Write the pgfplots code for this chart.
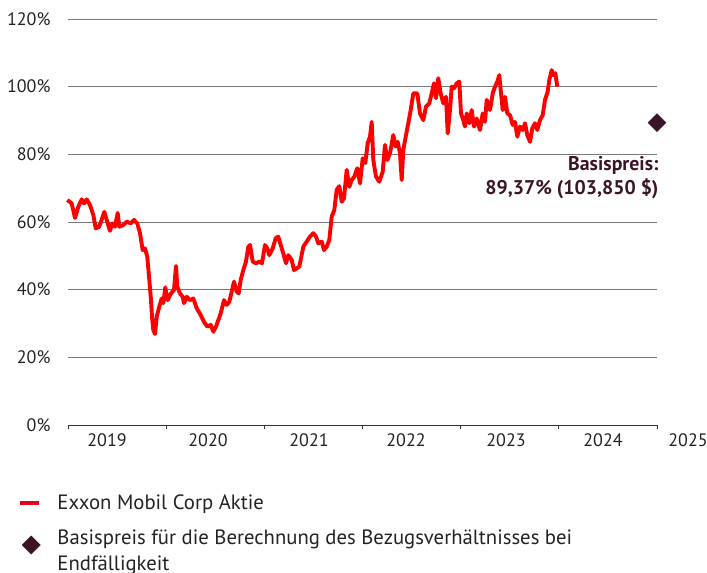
\documentclass[border=0pt]{standalone}
\usepackage{pgfplots}
\pgfplotsset{compat=1.18}
\usepackage{fontspec}
\setmainfont{PT Sans}
\definecolor{gridgray}{RGB}{120,120,120}
\definecolor{axisdark}{RGB}{50,50,50}
\definecolor{linered}{RGB}{255,0,0}
\definecolor{legred}{RGB}{226,0,26}
\definecolor{maroonc}{RGB}{59,20,39}
\definecolor{txt}{RGB}{34,34,34}
\pgfplotstableread{
x y
67.3 66.5
71.7 65.5
75 61.2
78.3 64.5
81.7 66.7
84 65.5
86.7 66.7
90 65.0
93.3 62.1
95.7 58.1
99 58.6
101 60.1
104.3 63.0
107.7 59.6
110 57.4
112.3 59.6
115 58.6
117.7 62.7
119.3 58.6
123.3 59.1
126.7 60.1
130.7 59.6
134 60.6
137.3 59.6
140 56.7
142.7 51.7
145 52.2
147.3 49.7
149.3 42.9
151 36.9
152 32.0
153.3 28.1
155 26.9
156.7 32.0
159.3 35.0
161.7 37.4
163.3 36.0
165.3 40.7
167.7 36.9
170 38.4
172.3 39.4
174 39.9
176 47.0
177.3 40.9
180 38.9
182.7 37.9
184 36.0
186.7 37.9
190 36.9
193.3 37.4
196.7 34.5
200.7 32.5
204 30.5
207.3 29.1
210.7 29.6
213.3 27.6
216 29.1
218.3 31.0
220.7 33.0
224 36.9
226.7 35.5
229.3 36.4
231.7 39.4
234 42.4
236.7 39.4
238.7 38.9
240.7 42.9
243.3 45.8
246 48.3
248.3 52.7
250 53.2
252.7 48.3
256 47.8
259.3 48.3
262 47.8
265 53.2
267.3 52.2
269.3 50.2
272.7 52.2
275.7 55.2
278.3 55.7
280.7 53.2
283.3 50.7
286 47.8
288.3 50.2
291.7 48.8
294 45.8
296.7 46.3
299.3 46.8
303.3 52.7
306.7 54.2
310 55.7
313.3 56.7
316 55.7
318.3 53.7
321.7 54.2
324 51.7
326.7 52.7
329.3 54.7
331.7 61.6
334.3 63.5
336.7 69.5
339.3 70.6
341.7 66.0
344 67.0
346.7 75.4
349.3 70.4
351.7 72.4
354.3 73.4
357.3 75.9
360 71.4
362.7 78.8
365.3 77.4
367.7 83.3
370 85.2
371.7 89.6
373.3 78.3
376 73.4
379.3 71.9
382.7 74.9
385 82.8
387.3 78.3
390 80.3
393.3 85.7
395.7 82.3
397.7 83.7
400 80.3
401.7 72.4
403.3 81.3
406 85.7
408.3 89.2
410.7 93.1
413.3 98.0
417.3 98.0
420 92.1
423.3 90.1
426 94.1
429.3 95.1
431.7 98.0
434 101.0
436 96.6
438.3 102.5
440.7 98.0
443.3 95.1
446 97.0
447.7 86.2
450 93.1
451.7 100.0
454 99.5
456.7 101.0
459.3 101.5
461 92.1
463.3 90.1
465 88.2
466.7 92.1
469.3 89.2
471.7 93.1
474 88.2
476.7 90.6
480 87.2
482.7 92.1
485 89.6
486.7 96.1
490 93.1
492.7 98.0
495 100.0
497.3 101.5
499.3 103.4
500.7 99.0
502.7 93.1
505 97.0
507.3 92.1
510 91.6
512.7 88.7
515 89.6
517.3 85.2
520 88.2
522.7 87.2
525 89.2
527.3 85.7
530 83.7
532.3 87.7
535 89.2
537.3 87.2
540 90.1
542.7 91.6
545 96.1
547.7 98.5
549.3 102.0
551.7 104.9
553.3 103.4
555.3 104.0
557.3 100.0
}\stock
\begin{document}
\begin{tikzpicture}
\begin{axis}[
  at={(68pt,-425pt)}, anchor=south west,
  scale only axis, width=589pt, height=406pt,
  xmin=68, xmax=657, ymin=0, ymax=120,
  clip=false,
  separate axis lines,
  axis x line*=bottom, axis y line*=left,
  x axis line style={axisdark, line width=0.9pt},
  y axis line style={draw=none},
  /pgf/number format/assume math mode=true,
  ytick={0,20,...,120},
  yticklabel={\pgfmathprintnumber{\tick}\%},
  ytick style={draw=none},
  yticklabel style={font=\fontsize{18}{20}\selectfont, text=txt, xshift=-10pt},
  ymajorgrids, grid style={gridgray, line width=0.8pt},
  xtick={68,166.2,264.3,362.5,460.7,558.8,657},
  xticklabels={},
  tick align=outside,
  major tick length=4pt,
  xtick style={axisdark, line width=0.8pt},
  extra x ticks={107,208,309,406,506,603},
  extra x tick labels={2019,2020,2021,2022,2023,2024},
  extra x tick style={major tick length=0pt, grid=none,
    xticklabel style={font=\fontsize{18}{20}\selectfont, text=txt, yshift=-5pt}},
  legend style={draw=none, fill=none, inner sep=0pt, outer sep=0pt,
    at={(axis cs:18,-20.6)}, anchor=north west,
    font=\fontsize{20.7}{26}\selectfont, text=txt, row sep=19pt,
    nodes={inner sep=0pt}},
  legend cell align=left,
]
\addplot[linered, line width=3.9pt, line join=round,
  legend image code/.code={\draw[legred, line width=4.5pt] (0pt,0pt) -- (19pt,0pt);}]
  table[x=x,y=y] {\stock};
\addlegendentry{\hspace{16pt}Exxon Mobil Corp Aktie}
\addplot[only marks, mark=square*, mark size=6.4pt,
  mark options={rotate=45, fill=maroonc, draw=maroonc},
  legend image code/.code={\path[mark=square*, mark size=6.4pt, mark options={rotate=45, fill=maroonc, draw=maroonc}] plot coordinates {(11pt,6pt)};}]
  coordinates {(657,89.37)};
\addlegendentry[align=left]{\hspace{16pt}Basispreis für die Berechnung des Bezugsverhältnisses bei\\\hspace{16pt}Endfälligkeit}
\node[anchor=base east, text=maroonc, font=\fontsize{19.8}{20}\selectfont\bfseries] at (axis cs:662,75.2) {Basispreis:};
\node[anchor=base east, text=maroonc, font=\fontsize{19.8}{20}\selectfont\bfseries] at (axis cs:662,68.0) {89,37\% (103,850 \$)};
\node[anchor=base, text=txt, font=\fontsize{18}{20}\selectfont] at (axis cs:688,-6.3) {2025};
\end{axis}
\pgfresetboundingbox
\path (0pt,0pt) rectangle (707pt,-573pt);
\end{tikzpicture}
\end{document}
